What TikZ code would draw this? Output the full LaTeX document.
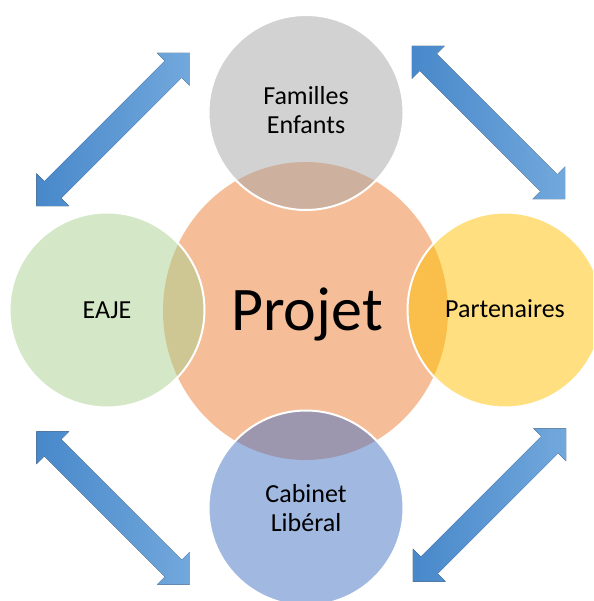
\documentclass[tikz,border=0pt]{standalone}
\usepackage{fontspec}
\setmainfont{Carlito}
\usetikzlibrary{shapes.geometric}
\definecolor{orangeC}{HTML}{ED7D31}
\definecolor{grayC}{HTML}{A5A5A5}
\definecolor{greenC}{HTML}{A9D08E}
\definecolor{yellowC}{HTML}{FFC000}
\definecolor{blueC}{HTML}{4472C4}
\definecolor{arrowdark}{HTML}{4888CA}
\definecolor{arrowlight}{HTML}{72A8DC}
\begin{document}
\begin{tikzpicture}[x=1pt,y=-1pt,
  centre/.style={ellipse, minimum width=285pt, minimum height=298pt, fill=orangeC, fill opacity=0.5, inner sep=0pt},
  outer/.style={circle, minimum size=195pt, draw=white, line width=2pt, fill opacity=0.5, inner sep=0pt},
  lbl/.style={font=\fontsize{26}{29}\selectfont, align=center, text=black, inner sep=0pt},
  big/.style={font=\fontsize{62}{70}\selectfont, text=black, inner sep=0pt},
  dblarrow/.style={left color=arrowdark, right color=arrowlight, draw=none}]
\useasboundingbox (0,0) rectangle (593,601);
\clip (0,0) rectangle (593,601);
% arrows
\foreach \cx/\cy/\ang in {113/129.5/45, 488.5/122.5/-45, 113/508/-45, 489.5/505/45}{
  \begin{scope}[shift={(\cx,\cy)}, rotate=\ang]
    \fill[dblarrow] (-108.5,0) -- (-85.2,-23.3) -- (-85.2,-12) -- (85.2,-12) -- (85.2,-23.3)
      -- (108.5,0) -- (85.2,23.3) -- (85.2,12) -- (-85.2,12) -- (-85.2,23.3) -- cycle;
  \end{scope}
}
% circles
\node[centre] (projet) at (305.5,311) {};
\node[outer, fill=grayC] (fam) at (306,112.5) {};
\node[outer, fill=greenC] (eaje) at (107,310) {};
\node[outer, fill=yellowC] (part) at (505,310) {};
\node[outer, fill=blueC] (cab) at (306,508) {};
% texts
\node[big, anchor=base] (tprojet) at (307,330) {Projet};
\node[lbl] (tfam) at (306,110) {Familles\\Enfants};
\node[lbl, anchor=base] (teaje) at (107,318) {EAJE};
\node[lbl, anchor=base] (tpart) at (505,317) {Partenaires};
\node[lbl] (tcab) at (306,508) {Cabinet\\Libéral};
\end{tikzpicture}
\end{document}
